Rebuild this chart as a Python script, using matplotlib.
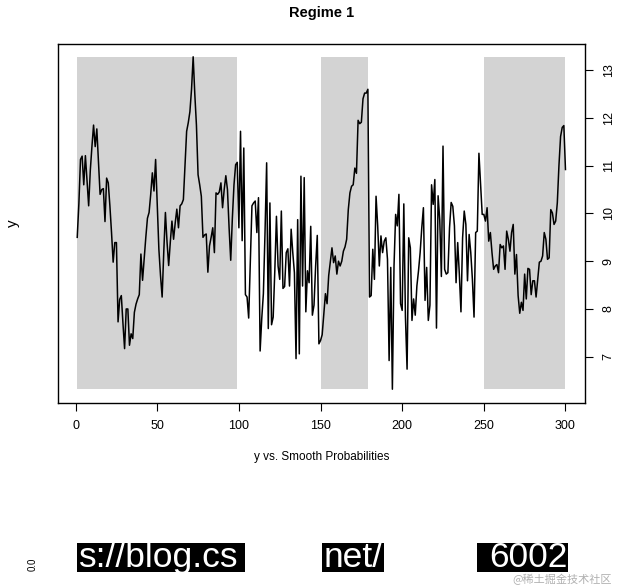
import matplotlib
matplotlib.use("Agg")
import matplotlib.pyplot as plt
import matplotlib.patches as patches

plt.rcParams['font.family'] = ['Liberation Sans', 'DejaVu Sans']

# series, index 1..300
y_values = [
    9.50, 10.20, 11.13, 11.20, 10.60, 11.21, 10.70, 10.16, 10.90, 11.40,
    11.85, 11.40, 11.77, 11.10, 10.40, 10.50, 10.52, 9.83, 10.74, 10.64,
    10.16, 9.60, 8.98, 9.39, 9.39, 7.73, 8.20, 8.28, 7.70, 7.17,
    8.00, 8.00, 7.24, 7.48, 7.38, 7.93, 8.10, 8.21, 8.30, 9.15,
    8.60, 9.05, 9.50, 9.90, 10.02, 10.40, 10.85, 10.47, 11.13, 10.20,
    9.25, 8.70, 8.25, 9.20, 10.02, 9.40, 8.91, 9.40, 9.84, 9.46,
    9.80, 10.09, 9.70, 10.16, 10.20, 10.29, 11.00, 11.72, 11.90, 12.13,
    12.60, 13.28, 12.50, 11.85, 10.81, 10.60, 10.36, 9.50, 9.55, 9.57,
    8.77, 9.32, 9.50, 9.70, 9.18, 10.43, 10.40, 10.45, 10.64, 10.12,
    10.50, 10.79, 10.50, 9.70, 9.02, 9.90, 10.60, 11.02, 11.07, 9.70,
    11.72, 9.43, 11.37, 8.30, 8.25, 7.81, 9.00, 10.16, 10.22, 10.26,
    9.60, 10.33, 7.12, 7.80, 8.32, 9.60, 11.06, 7.59, 10.22, 7.67,
    7.83, 8.80, 9.94, 8.90, 8.62, 10.05, 8.43, 8.47, 9.18, 9.26,
    8.48, 9.67, 9.18, 8.76, 6.96, 9.87, 7.06, 10.78, 8.48, 10.75,
    7.94, 8.80, 8.55, 9.73, 7.87, 8.08, 8.90, 9.54, 7.27, 7.34,
    7.46, 7.90, 8.32, 8.11, 8.70, 9.00, 9.28, 8.97, 9.11, 8.73,
    9.00, 8.90, 9.00, 9.21, 9.30, 9.46, 10.08, 10.43, 10.57, 10.60,
    10.95, 10.84, 11.95, 11.88, 11.91, 12.40, 12.52, 12.52, 12.60, 8.25,
    8.28, 9.25, 8.62, 10.36, 9.74, 8.90, 9.53, 9.18, 9.42, 9.49,
    9.04, 6.92, 8.87, 6.32, 8.90, 9.98, 9.74, 10.40, 8.11, 7.97,
    10.20, 7.83, 6.74, 9.49, 9.28, 7.76, 8.21, 7.87, 8.48, 8.80,
    9.18, 9.70, 10.12, 8.18, 8.87, 7.76, 8.08, 10.60, 10.19, 10.71,
    7.60, 10.37, 9.87, 8.68, 11.41, 8.83, 8.73, 8.76, 9.70, 10.23,
    10.15, 9.74, 8.55, 9.39, 8.73, 7.94, 9.49, 10.05, 9.77, 8.59,
    9.56, 9.18, 8.62, 7.83, 9.60, 9.63, 11.26, 10.60, 9.98, 9.98,
    9.84, 10.12, 9.42, 9.60, 9.18, 8.83, 8.90, 8.93, 8.76, 9.35,
    9.28, 9.32, 8.83, 9.63, 9.46, 9.21, 9.60, 9.77, 8.73, 9.14,
    8.28, 7.91, 8.14, 7.97, 8.73, 8.21, 8.85, 8.83, 8.30, 8.59,
    8.59, 8.25, 8.62, 8.98, 9.00, 9.11, 9.60, 9.46, 9.04, 9.07,
    10.08, 10.01, 9.77, 9.84, 10.22, 11.00, 11.61, 11.80, 11.84, 10.92,
]
x_values = list(range(1, len(y_values) + 1))

# periods where regime 1 is the likely state
regime_starts = [1, 150, 250]
regime_ends = [99, 179, 300]

x_ticks = [0, 50, 100, 150, 200, 250, 300]
y_ticks = [7, 8, 9, 10, 11, 12, 13]

W, H = 617, 586
fig = plt.figure(figsize=(W / 100, H / 100), dpi=100)
ax = fig.add_axes([57.7 / W, 1 - 402.5 / H, (585 - 57.7) / W, (402.5 - 43.5) / H])

y_min, y_max = min(y_values), max(y_values)
for s, e in zip(regime_starts, regime_ends):
    rect = patches.Rectangle((s, y_min), e - s, y_max - y_min,
                             facecolor='#d3d3d3', edgecolor='none', zorder=1)
    ax.add_patch(rect)

ax.plot(x_values, y_values, color='black', linewidth=1.1, zorder=2)

x_pad = 0.04 * (x_values[-1] - x_values[0])
y_pad = 0.04 * (y_max - y_min)
ax.set_xlim(x_values[0] - x_pad, x_values[-1] + x_pad)
ax.set_ylim(y_min - y_pad, y_max + y_pad)

ax.set_xticks(x_ticks)
ax.set_yticks(y_ticks)
ax.yaxis.tick_right()
ax.tick_params(axis='both', direction='out', length=5.8, width=0.8,
               labelsize=9, color='black')
ax.tick_params(axis='x', pad=7)
ax.tick_params(axis='y', pad=7, labelrotation=90)
for lab in ax.get_yticklabels():
    lab.set_va('center')
for sp in ax.spines.values():
    sp.set_linewidth(1.0)

fig.text(321.4 / W, 1 - 13.5 / H, 'Regime 1', ha='center', va='center',
         fontsize=10.5, fontweight='bold')
fig.text(321.4 / W, 1 - 457 / H, 'y vs. Smooth Probabilities', ha='center',
         va='center', fontsize=8.5)
fig.text(13 / W, 1 - 223 / H, 'y', ha='center', va='center', rotation=90,
         fontsize=11)

# leftover strip from a neighbouring image in the reference
band_top, band_bot = 543, 572
for x0, x1, txt, ha in [(77, 245, 's://blog.cs', 'left'),
                        (322, 384, 'net/', 'left'),
                        (477, 568, '6002', 'right')]:
    fig.patches.append(patches.Rectangle((x0 / W, 1 - band_bot / H), (x1 - x0) / W,
                                         (band_bot - band_top) / H, transform=fig.transFigure,
                                         facecolor='black', edgecolor='none'))
    tx = x0 + 2 if ha == 'left' else x1
    fig.text(tx / W, 1 - (band_top + band_bot) / 2 / H, txt, ha=ha, va='center',
             color='white', fontsize=25.5, clip_on=False)
fig.text(33 / W, 1 - 564 / H, '0.0', rotation=90, ha='center', va='center', fontsize=7)
fig.text(612 / W, 1 - 579 / H, '@稀土掘金技术社区', ha='right', va='center',
         fontsize=8, color='#b0b0b0', family=['Noto Sans CJK SC', 'DejaVu Sans'])

fig.savefig('out.png', dpi=100)
